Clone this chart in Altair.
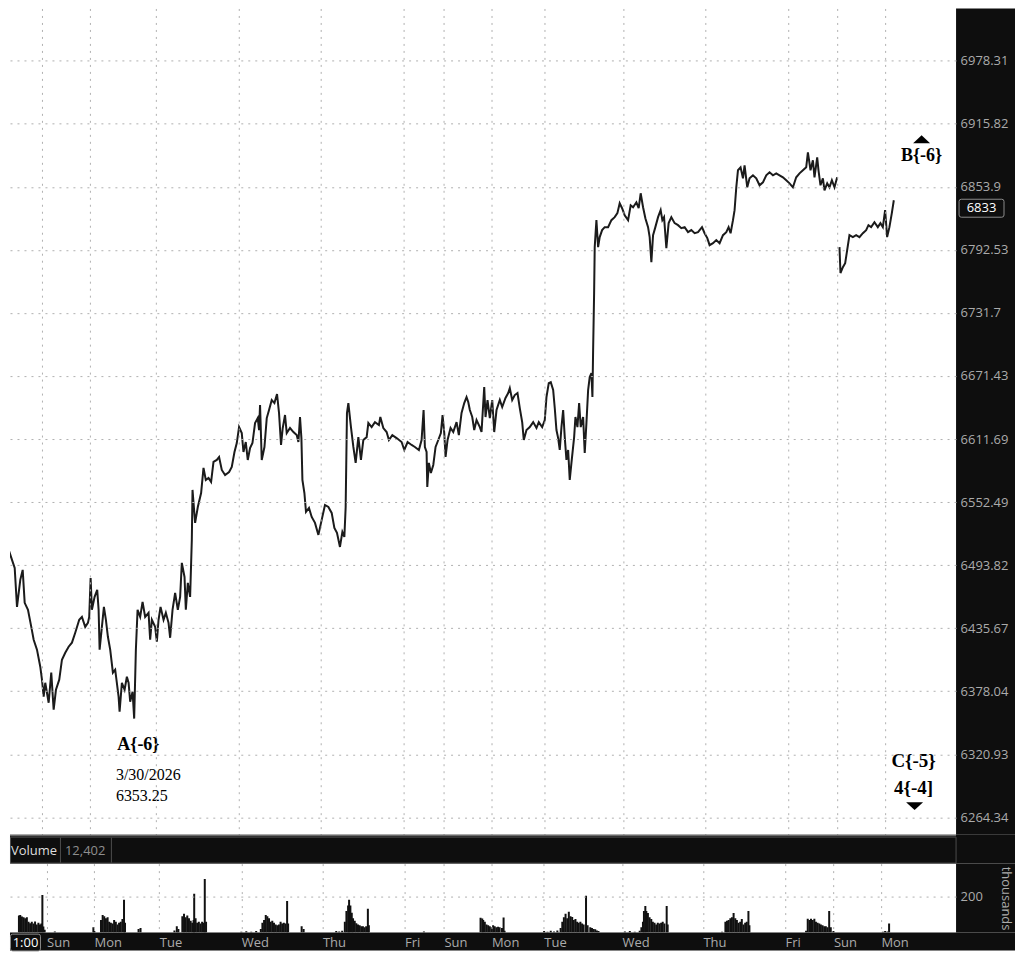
import altair as alt
import pandas as pd

# ---------------- data (x = bar index, y = price) ----------------
day_bars = [40, 88, 154, 237, 319, 402, 442, 490, 543, 622, 704, 787, 836, 884]
day_names = ["Sun", "Mon", "Tue", "Wed", "Thu", "Fri", "Sun", "Mon", "Tue", "Wed", "Thu", "Fri", "Sun", "Mon"]
price_ticks = [6978.31, 6915.82, 6853.9, 6792.53, 6731.7, 6671.43, 6611.69, 6552.49,
               6493.82, 6435.67, 6378.04, 6320.93, 6264.34]

bar_wk = [0, 1.7, 4, 6.7, 10, 12.7, 15, 18.3, 20.7, 22.7, 26, 29.3, 31.7, 35, 38.3, 40, 41.7, 43.3, 46.7, 49.3,
          51.7, 54, 57.3, 60, 63.3, 66.7, 70, 73.3, 77.3, 80, 83.3, 86, 87.3, 88.7, 90, 92.7, 95.3, 96.7, 97.7, 100,
          102, 104, 106, 108.3, 111, 113.3, 116.7, 117.7, 120, 122.7, 125, 126.7, 128.3, 130.7, 132.3, 134, 135.7, 138.3, 140.7, 143.3,
          146.7, 148.3, 150, 153.3, 155, 156.7, 158.7, 161.7, 164, 166.7, 168.3, 170.7, 173.3, 176, 178.3, 180, 182.7, 184, 186, 188.3,
          190, 190.7, 193.3, 196, 199.3, 201.7, 204, 206.7, 209.3, 211.7, 215, 217.3, 220, 223.3, 227.3, 230, 232.7, 235, 237.3, 240,
          241.7, 244, 246, 248.3, 250.7, 253.3, 256, 257.3, 258.3, 260, 262.7, 265, 267.3, 270, 272.7, 275.3, 277.3, 279.3, 281, 283.3,
          285, 288.3, 291.7, 295, 296.7, 298.3, 299.7, 300.7, 302.7, 304.3, 307.3, 310, 313.3, 316.7, 320, 323.3, 326.7, 330, 332.7, 335.3,
          338.3, 340.7, 342.7, 344, 345.3, 346.7, 349.3, 351.7, 354, 356.7, 359.3, 361.7, 365, 366.7, 370, 373.3, 377.3, 378.7, 381.7, 385,
          387.3, 390.7, 395, 400, 402.7, 406, 410, 413.3, 417.3, 420, 422, 423.3, 425, 425.7, 427.3, 429.3, 431.7, 434, 436.7, 439.3,
          441, 442.7, 444, 446, 449, 451.7, 455, 457.3, 460, 462.7, 465, 466.7, 468.3, 470.7, 472.7, 475, 478.3, 480, 482.7, 484,
          486, 488.3, 490.7, 492.7, 495, 498.3, 500.7, 504, 506.7, 508.3, 510.7, 513.3, 516, 518.3, 520.7, 522.3, 525, 528.3, 531.7, 535,
          537.3, 540.7, 543.3, 545, 547.3, 549.3, 551.7, 553.3, 555, 556.7, 558.3, 560, 561.7, 563.3, 565, 566.7, 568.3, 570, 572.7, 574,
          576, 577.7, 579.3, 581.7, 583.3, 585, 586.7, 588.3, 590, 591, 591.7, 592.7, 593.3, 595, 596.7, 598.3, 600.7, 603.3, 606.7, 610,
          613.3, 616, 618.3, 620.7, 623.3, 626.7, 629.3, 631.7, 635, 637.3, 639.3, 641.7, 644, 646.7, 648.3, 650, 651.7, 654, 656.7, 659.3,
          661, 662.7, 665, 667.3, 670, 673.3, 676.7, 680, 683.3, 686.7, 690, 693.3, 696.7, 700.7, 703.3, 706, 708.3, 711.7, 715, 718.3,
          721.7, 725, 727.3, 729.3, 731.7, 733.3, 735, 736.7, 739.3, 741.7, 743.3, 746, 748.3, 751.7, 755, 758.3, 761.7, 765, 768.3, 771.7,
          775, 778.3, 781.7, 785, 788.3, 791.7, 795, 798.3, 801.7, 805, 806.7, 809.3, 811.7, 813.3, 816, 817.3, 819.3, 821.7, 823.3, 826,
          828.3, 830.7, 833.3, 836]
price_wk = [6526.6, 6515.7, 6492.2, 6508.0, 6498.7, 6491.2, 6455.3, 6480.2, 6489.4, 6459.0,
            6452.6, 6436.9, 6425.1, 6416.0, 6400.4, 6388.6, 6373.1, 6385.8, 6367.6, 6395.0,
            6361.3, 6379.4, 6388.6, 6406.8, 6413.2, 6418.7, 6422.4, 6431.5, 6443.4, 6446.1,
            6436.9, 6440.6, 6446.1, 6482.0, 6452.6, 6464.5, 6471.0, 6452.6, 6416.0, 6436.9,
            6455.3, 6443.4, 6427.8, 6416.0, 6395.0, 6397.7, 6373.1, 6359.5, 6385.8, 6379.4,
            6391.3, 6385.8, 6368.5, 6377.6, 6353.25, 6416.0, 6452.6, 6446.1, 6459.9, 6446.1,
            6449.8, 6425.1, 6443.4, 6436.9, 6423.3, 6443.4, 6455.3, 6443.4, 6449.8, 6440.6,
            6426.9, 6452.6, 6468.2, 6452.6, 6464.5, 6495.9, 6482.9, 6452.6, 6477.4, 6464.5,
            6517.3, 6563.9, 6533.1, 6547.9, 6561.0, 6584.5, 6573.2, 6575.1, 6571.4, 6590.1,
            6592.0, 6594.8, 6582.6, 6577.9, 6580.7, 6585.4, 6599.5, 6607.9, 6623.0, 6617.3,
            6599.5, 6608.9, 6592.0, 6603.3, 6607.9, 6626.8, 6631.5, 6620.2, 6643.9, 6592.0,
            6604.2, 6631.5, 6639.1, 6648.6, 6645.7, 6654.3, 6636.3, 6606.1, 6622.1, 6634.4,
            6617.3, 6622.1, 6618.3, 6615.4, 6608.9, 6632.5, 6612.6, 6573.2, 6561.0, 6543.3,
            6547.0, 6538.6, 6533.1, 6521.9, 6535.9, 6549.8, 6547.9, 6542.4, 6528.4, 6523.8,
            6510.7, 6524.7, 6520.0, 6547.9, 6636.3, 6645.7, 6623.0, 6604.2, 6589.2, 6613.5,
            6592.0, 6610.8, 6613.5, 6626.8, 6623.0, 6627.7, 6624.9, 6632.5, 6622.1, 6618.3,
            6610.8, 6615.4, 6612.6, 6608.9, 6601.4, 6608.9, 6606.1, 6604.2, 6601.4, 6610.8,
            6639.1, 6604.2, 6599.5, 6566.7, 6589.2, 6579.8, 6587.3, 6604.2, 6610.8, 6617.3,
            6634.4, 6617.3, 6594.8, 6610.8, 6622.1, 6618.3, 6627.7, 6615.4, 6636.3, 6645.7,
            6651.4, 6646.7, 6639.1, 6632.5, 6620.2, 6629.6, 6623.0, 6618.3, 6660.9, 6632.5,
            6648.6, 6631.5, 6648.6, 6618.3, 6639.1, 6648.6, 6641.9, 6650.5, 6655.2, 6659.9,
            6648.6, 6653.3, 6655.2, 6641.0, 6627.7, 6610.8, 6620.2, 6623.0, 6627.7, 6622.1,
            6627.7, 6623.0, 6629.6, 6651.4, 6664.7, 6665.6, 6658.1, 6641.0, 6620.2, 6612.6,
            6601.4, 6623.0, 6639.1, 6613.5, 6592.0, 6601.4, 6573.2, 6589.2, 6613.5, 6632.5,
            6623.0, 6645.7, 6623.0, 6632.5, 6598.6, 6626.8, 6658.1, 6670.4, 6674.2, 6651.4,
            6696.2, 6750.8, 6795.2, 6821.4, 6795.2, 6804.9, 6811.7, 6814.6, 6814.6, 6821.4,
            6824.3, 6828.2, 6837.9, 6833.0, 6826.2, 6821.4, 6835.9, 6834.0, 6838.8, 6833.0,
            6847.6, 6834.0, 6823.3, 6814.6, 6804.9, 6780.7, 6806.8, 6814.6, 6824.3, 6831.1,
            6821.4, 6824.3, 6794.2, 6818.5, 6824.3, 6818.5, 6816.5, 6813.6, 6814.6, 6809.7,
            6811.7, 6808.7, 6809.7, 6814.6, 6808.7, 6803.9, 6797.1, 6799.0, 6802.0, 6799.0,
            6806.8, 6809.7, 6814.6, 6808.7, 6821.4, 6831.1, 6853.4, 6870.1, 6873.0, 6862.2,
            6875.0, 6853.4, 6862.2, 6865.2, 6862.2, 6855.4, 6858.3, 6865.2, 6868.1, 6865.2,
            6867.1, 6865.2, 6863.2, 6860.3, 6857.3, 6853.4, 6863.2, 6867.1, 6870.1, 6873.0,
            6887.7, 6870.1, 6879.9, 6863.2, 6882.8, 6870.1, 6855.4, 6862.2, 6850.5, 6857.3,
            6853.4, 6860.3, 6853.4, 6863.2]

bar_sun = [838.3, 839.3, 841.7, 844, 846, 848.3, 851.7, 855, 858.3, 861.7, 865, 867.3, 870, 873.3,
           876.7, 879.3, 881.7, 884, 886, 888.3, 890.7, 892.7]
price_sun = [6795.2, 6770.1, 6775.8, 6779.7, 6792.2, 6806.8, 6804.9, 6806.8, 6804.9, 6808.7, 6811.7,
             6816.5, 6814.6, 6819.4, 6814.6, 6818.5, 6814.6, 6831.1, 6804.9, 6814.6, 6828.2, 6840.8]

vol_bar = [12, 13.3, 15, 16.7, 18.3, 20, 21.7, 23.3, 25, 26.7, 28.3, 30, 31.7, 33.3, 34.7, 35.7, 36.7, 38, 48.3,
           87.3, 88.3, 95, 96.7, 98.3, 100, 101.7, 103.3, 105, 106.7, 108.3, 110, 111.7, 113.3, 115, 116.7, 118.3, 119.3, 133, 135,
           169.3, 171.7, 173.3, 177.3, 179, 180.7, 182.3, 184, 185.7, 187.3, 188.7, 189.3, 190.7, 192.3, 194, 195.7, 197.3, 199, 200, 201.3,
           237, 242, 247, 252, 256.7, 258.3, 260, 261.7, 263.3, 265, 266.7, 268.3, 270, 271.7, 273.3, 275, 276.7, 278.3, 280, 281.7, 283.3, 284.3, 298, 300,
           333, 336, 339, 341.7, 343.3, 345, 346, 347.3, 348.7, 350, 351.7, 353.3, 355, 356.7, 358.3, 360, 361.7, 363.3, 365, 366, 421.7,
           479, 480.7, 481.7, 483.3, 485, 486.7, 488.3, 490, 491.7, 493.3, 495, 496.7, 498.3, 500.7, 502.3, 503.3,
           543.3, 546.7, 550, 553.3, 556.7, 560, 561.7, 563.3, 565, 566.7, 568.3, 570, 571.7, 573.3, 575, 576.7, 578.3, 580, 581.7, 583.3, 585.7, 587.3, 590, 591.7, 593.3, 595, 596.7, 598.3,
           625, 630, 635, 640, 641.7, 643.3, 644.3, 645.7, 646.7, 648.3, 650, 651.7, 653.3, 655, 656.7, 658.3, 660, 661.7, 663.3, 665, 667.3, 668.3,
           723.3, 726.7, 728.3, 730, 731.7, 733.3, 735, 736.7, 738.3, 740, 741.7, 743.3, 745, 746.7, 748.3, 750, 751,
           808.3, 810, 811.7, 813.3, 815, 816.7, 818.3, 820, 821.7, 823.3, 825, 826.7, 828.3, 830, 831.7, 833.3, 836,
           886, 888.3, 890.7, 892.3]
vol_k = [95, 98, 89, 85, 80, 85, 60, 52, 60, 50, 61, 45, 55, 45, 50, 209, 33, 15, 6,
         30, 8, 70, 98, 90, 80, 85, 60, 55, 50, 70, 60, 45, 55, 60, 75, 182, 55, 20, 25,
         12, 35, 20, 90, 104, 85, 95, 80, 65, 55, 70, 215, 80, 55, 60, 50, 60, 55, 297, 60,
         5, 7, 4, 8, 20, 55, 70, 98, 90, 80, 60, 65, 55, 45, 40, 45, 60, 50, 55, 50, 176, 50, 35, 20,
         8, 6, 10, 60, 120, 150, 182, 150, 110, 80, 65, 52, 45, 40, 35, 35, 30, 35, 132, 40, 6,
         82, 78, 70, 60, 45, 40, 35, 30, 40, 35, 30, 32, 30, 25, 83, 10,
         8, 5, 10, 6, 12, 25, 60, 85, 104, 80, 115, 90, 86, 70, 75, 60, 55, 60, 50, 45, 205, 40, 30, 25, 20, 18, 12, 8,
         6, 8, 5, 10, 30, 60, 120, 148, 120, 108, 85, 75, 60, 55, 45, 55, 50, 55, 60, 50, 148, 45,
         5, 60, 65, 70, 80, 85, 108, 80, 70, 55, 60, 75, 45, 55, 60, 120, 40,
         10, 76, 70, 76, 70, 76, 60, 55, 50, 45, 40, 35, 35, 30, 120, 30, 8,
         5, 8, 6, 50]

ann_text = ["A{-6}", "B{-6}", "C{-5}", "4{-4]"]
ann_bar = [136.5, 920.5, 912.5, 912.5]
ann_price = [6329.6, 6883.8, 6315.2, 6291.0]
ann_size = [18, 18, 19, 19]

pivot_text = ["3/30/2026", "6353.25"]
pivot_bar = [114, 114]
pivot_price = [6302.6, 6283.8]

tri_up_bar, tri_up_price = [920.5], [6900.5]
tri_dn_bar, tri_dn_price = [913.5], [6274.4]

last_price = 6833
volume_total = "12,402"

# ---------------- layout ----------------
W = 947
PH = 827
VH = 69
GAP = 29
RIGHT = 1006          # right end of the dark frame, in view pixels
BG = "#0e0e0e"
LBL = "#ababab"
FONT = "Open Sans"
SERIF = "Liberation Serif"

TRI_UP = "M-1,0.47L1,0.47L0,-0.47Z"
TRI_DN = "M-1,-0.47L1,-0.47L0,0.47Z"
BOX = "M-0.9,-0.4L0.9,-0.4Q1,-0.4 1,-0.3L1,0.3Q1,0.4 0.9,0.4L-0.9,0.4Q-1,0.4 -1,0.3L-1,-0.3Q-1,-0.4 -0.9,-0.4Z"
BOX2 = "M-0.85,-0.56L0.85,-0.56Q1,-0.56 1,-0.42L1,0.42Q1,0.56 0.85,0.56L-0.85,0.56Q-1,0.56 -1,0.42L-1,-0.42Q-1,-0.56 -0.85,-0.56Z"

grid_kw = dict(gridColor="#b0b0b0", gridDash=[2, 5], gridWidth=1)

x_scale = alt.Scale(domain=[8, 955], nice=False, zero=False)
y_scale = alt.Scale(type="log", domain=[6248.92, 7030.5], nice=False)

one = pd.DataFrame({"t": ["Volume"], "v": [volume_total], "c": ["1:00"]})


def frame(x0, x1, y0, y1):
    return alt.Chart(one).mark_rect(fill=BG, strokeWidth=0).encode(
        x=alt.value(x0), x2=alt.value(x1), y=alt.value(y0), y2=alt.value(y1))


line_df = pd.DataFrame({
    "bar": bar_wk + bar_sun,
    "price": price_wk + price_sun,
    "session": ["week"] * len(bar_wk) + ["sun"] * len(bar_sun),
})

x_price_axis = alt.Axis(values=day_bars, labels=False, ticks=False, domain=False, grid=True,
                        title=None, zindex=1, **grid_kw)
y_price_axis = alt.Axis(orient="right", values=price_ticks, format=".2~f", labelColor=LBL,
                        labelFontSize=13, labelFont=FONT, labelPadding=4, ticks=False, domain=False,
                        grid=True, title=None, labelOverlap=False, zindex=1, **grid_kw)

line = alt.Chart(line_df).mark_line(color="#1b1b1b", strokeWidth=2.0, clip=True).encode(
    x=alt.X("bar:Q", scale=x_scale, axis=x_price_axis),
    y=alt.Y("price:Q", scale=y_scale, axis=y_price_axis),
    detail="session:N",
)

ann_df = pd.DataFrame({"t": ann_text, "bar": ann_bar, "price": ann_price, "s": ann_size})
ann = alt.Chart(ann_df).mark_text(font=SERIF, fontWeight="bold", color="black",
                                  align="center", baseline="middle").encode(
    x=alt.X("bar:Q", scale=x_scale), y=alt.Y("price:Q", scale=y_scale),
    text="t:N", size=alt.Size("s:Q", scale=None, legend=None))

piv_df = pd.DataFrame({"t": pivot_text, "bar": pivot_bar, "price": pivot_price})
piv = alt.Chart(piv_df).mark_text(font=SERIF, fontSize=16, color="black",
                                  align="left", baseline="middle").encode(
    x=alt.X("bar:Q", scale=x_scale), y=alt.Y("price:Q", scale=y_scale), text="t:N")

up_df = pd.DataFrame({"bar": tri_up_bar, "price": tri_up_price})
dn_df = pd.DataFrame({"bar": tri_dn_bar, "price": tri_dn_price})
tri_up = alt.Chart(up_df).mark_point(shape=TRI_UP, size=289, filled=True, color="black",
                                     opacity=1, strokeWidth=0).encode(
    x=alt.X("bar:Q", scale=x_scale), y=alt.Y("price:Q", scale=y_scale))
tri_dn = alt.Chart(dn_df).mark_point(shape=TRI_DN, size=289, filled=True, color="black",
                                     opacity=1, strokeWidth=0).encode(
    x=alt.X("bar:Q", scale=x_scale), y=alt.Y("price:Q", scale=y_scale))

cur_df = pd.DataFrame({"price": [last_price], "t": [str(last_price)]})
cur_box = alt.Chart(cur_df).mark_point(shape=BOX, size=2025, filled=True, fill=BG, stroke="#8c8c8c",
                                       strokeWidth=1, opacity=1).encode(
    x=alt.value(W + 25.5), y=alt.Y("price:Q", scale=y_scale))
cur_txt = alt.Chart(cur_df).mark_text(color="white", fontSize=13, font=FONT, align="center",
                                      baseline="middle").encode(
    x=alt.value(W + 25.5), y=alt.Y("price:Q", scale=y_scale), text="t:N")

price_panel = alt.layer(
    frame(W, RIGHT, 0, PH), line, ann, piv, tri_up, tri_dn, cur_box, cur_txt
).properties(width=W, height=PH)

# ---------------- volume panel ----------------
names_js = "[" + ",".join(f"'{n}'" for n in day_names) + "]"
bars_js = "[" + ",".join(str(b) for b in day_bars) + "]"
day_expr = f"{names_js}[indexof({bars_js}, datum.value)]"

x_vol_axis = alt.Axis(values=day_bars, labelExpr=day_expr, labelAlign="left", labelBaseline="top",
                      labelPadding=4, labelColor=LBL, labelFontSize=13, labelFont=FONT,
                      labelOverlap=False, labelFlush=False, ticks=False, domain=False, grid=True,
                      title=None, zindex=1, **grid_kw)
y_vol_axis = alt.Axis(orient="right", values=[200], labelColor=LBL, labelFontSize=13, labelFont=FONT,
                      labelPadding=4, ticks=False, domain=False, grid=True, title="thousands",
                      titleColor=LBL, titleFontSize=13, titleFont=FONT, titleFontWeight="normal",
                      titleAngle=90, titlePadding=16, zindex=1, **grid_kw)

vol_df = pd.DataFrame({"bar": vol_bar, "k": vol_k})
vol = alt.Chart(vol_df).mark_bar(size=2, color="#111111", clip=True).encode(
    x=alt.X("bar:Q", scale=x_scale, axis=x_vol_axis),
    y=alt.Y("k:Q", scale=alt.Scale(domain=[0, 383], nice=False), axis=y_vol_axis),
)

hdr_line = alt.Chart(one).mark_rule(color="#6a6a6a", strokeWidth=1.5).encode(
    x=alt.value(0), x2=alt.value(W), y=alt.value(-GAP + 0.8))
hdr_rect = alt.Chart(one).mark_rect(fill=BG, stroke="#4d4d4d", strokeWidth=1).encode(
    x=alt.value(0.5), x2=alt.value(W), y=alt.value(-26.5), y2=alt.value(-0.5))
hdr_sep1 = alt.Chart(one).mark_rule(color="#4d4d4d").encode(
    x=alt.value(50.5), y=alt.value(-26), y2=alt.value(-1))
hdr_sep2 = alt.Chart(one).mark_rule(color="#4d4d4d").encode(
    x=alt.value(101.5), y=alt.value(-26), y2=alt.value(-1))
hdr_t1 = alt.Chart(one).mark_text(align="left", baseline="middle", color="#dedede", fontSize=13,
                                  font=FONT).encode(x=alt.value(1), y=alt.value(-13), text="t:N")
hdr_t2 = alt.Chart(one).mark_text(align="left", baseline="middle", color="#8f8f8f", fontSize=13,
                                  font=FONT).encode(x=alt.value(55), y=alt.value(-13), text="v:N")
cur_time_box = alt.Chart(one).mark_point(shape=BOX2, size=900, filled=True, fill=BG, stroke="#8c8c8c",
                                         strokeWidth=1, opacity=1).encode(
    x=alt.value(15.5), y=alt.value(VH + 10))
cur_time = alt.Chart(one).mark_text(align="center", baseline="middle", color="white", fontSize=13,
                                    font=FONT).encode(x=alt.value(15.5), y=alt.value(VH + 10), text="c:N")

vol_panel = alt.layer(
    frame(0, RIGHT, -GAP, 0), frame(W, RIGHT, 0, VH), frame(0, RIGHT, VH, VH + 18),
    vol, hdr_line, hdr_rect, hdr_sep1, hdr_sep2, hdr_t1, hdr_t2, cur_time_box, cur_time
).properties(width=W, height=VH)

chart = alt.vconcat(price_panel, vol_panel, spacing=GAP, bounds="flush").properties(
    background="white",
    padding=0,
).configure_view(fill="white", strokeWidth=0)

chart.save("out.html", embed_options={"renderer": "svg", "actions": False})
